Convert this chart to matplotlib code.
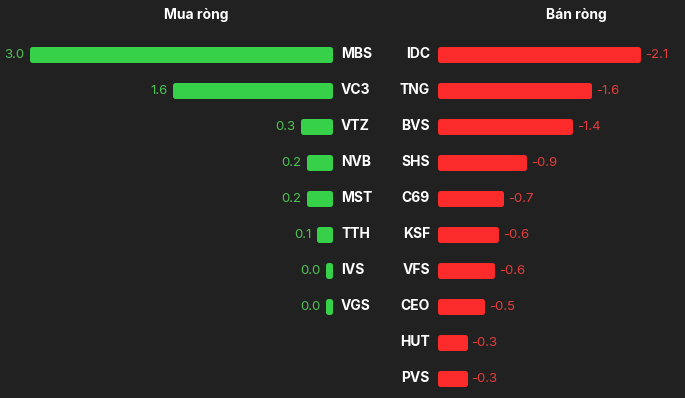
import matplotlib
matplotlib.use("Agg")
import matplotlib.pyplot as plt
import numpy as np

buy_tickers = ["MBS", "VC3", "VTZ", "NVB", "MST", "TTH", "IVS", "VGS"]
buy_values = [3.0, 1.56, 0.27, 0.21, 0.21, 0.11, 0.02, 0.02]

sell_tickers = ["IDC", "TNG", "BVS", "SHS", "C69", "KSF", "VFS", "CEO", "HUT", "PVS"]
sell_values = [-2.1, -1.58, -1.38, -0.89, -0.65, -0.59, -0.55, -0.45, -0.26, -0.26]

title_buy = "Mua ròng"
title_sell = "Bán ròng"

BG = "#212121"
GREEN = "#36d049"
GREEN_TXT = "#4cc454"
RED = "#fb2b2b"
RED_TXT = "#e63c3c"
FONT = ["Inter", "DejaVu Sans"]

W, H = 685, 398
fig = plt.figure(figsize=(W / 100, H / 100), dpi=100, facecolor=BG)

row0, step = 54.5, 36.0
ylim = ((H - row0) / step, -row0 / step)
bar_h = 11.0 / step
EDGE = 3.6  # points, gives rounded ends

# ---- left panel (buy) ----
axL = fig.add_axes([0, 0, 1, 1])
axL.set_facecolor("none")
zeroL, scaleL = 329.5, 99.3
axL.set_xlim(zeroL / scaleL, (zeroL - W) / scaleL)
axL.set_ylim(*ylim)
yL = np.arange(len(buy_tickers))
axL.barh(yL, buy_values, height=bar_h, color=GREEN, edgecolor=GREEN,
         linewidth=EDGE, joinstyle="round")
for y, t, v in zip(yL, buy_tickers, buy_values):
    axL.annotate(t, (0, y), xytext=(11.5, 0), textcoords="offset pixels",
                 ha="left", va="center", color="white", fontsize=10,
                 fontweight="bold", family=FONT)
    axL.annotate(f"{v:.1f}", (v, y), xytext=(-7, 0), textcoords="offset pixels",
                 ha="right", va="center", color=GREEN_TXT, fontsize=9.5,
                 family=FONT)
axL.axis("off")

# ---- right panel (sell) ----
axR = fig.add_axes([0, 0, 1, 1])
axR.set_facecolor("none")
zeroR, scaleR = 440.0, 94.3
axR.set_xlim(-zeroR / scaleR, (W - zeroR) / scaleR)
axR.set_ylim(*ylim)
yR = np.arange(len(sell_tickers))
mag = [abs(v) for v in sell_values]
axR.barh(yR, mag, height=bar_h, color=RED, edgecolor=RED,
         linewidth=EDGE, joinstyle="round")
for y, t, v, m in zip(yR, sell_tickers, sell_values, mag):
    axR.annotate(t, (0, y), xytext=(-10, 0), textcoords="offset pixels",
                 ha="right", va="center", color="white", fontsize=10,
                 fontweight="bold", family=FONT)
    axR.annotate(f"{v:.1f}", (m, y), xytext=(7, 0), textcoords="offset pixels",
                 ha="left", va="center", color=RED_TXT, fontsize=9.5,
                 family=FONT)
axR.axis("off")

fig.text(196 / W, 1 - 15 / H, title_buy, ha="center", va="center",
         color="white", fontsize=10, fontweight="bold", family=FONT)
fig.text(576 / W, 1 - 15 / H, title_sell, ha="center", va="center",
         color="white", fontsize=10, fontweight="bold", family=FONT)

fig.savefig("out.png", dpi=100, facecolor=BG)
